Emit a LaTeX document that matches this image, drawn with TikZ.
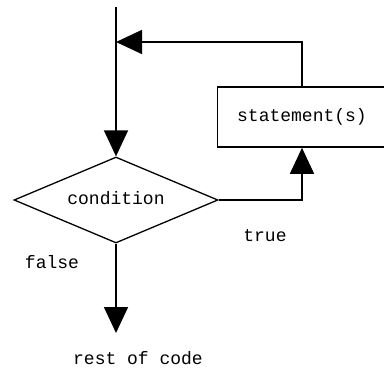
\documentclass[tikz,border=0pt]{standalone}
\usepackage{fontspec}
\newfontfamily\cf{Liberation Mono}
\usetikzlibrary{shapes.geometric,arrows.meta}
\begin{document}
\begin{tikzpicture}[x=1pt,y=-1pt,
  conn/.style={line width=1.6pt,-{Triangle[length=26pt,width=24pt]}},
  lbl/.style={font=\cf\fontsize{18}{20}\selectfont,inner sep=0pt},
  decision/.style={draw,line width=1.3pt,diamond,aspect=2.4,minimum width=204pt,minimum height=86pt,inner sep=0pt,font=\cf\fontsize{18}{20}\selectfont},
  stmtbox/.style={draw,line width=1.6pt,rectangle,minimum width=169pt,minimum height=60pt,inner sep=0pt,font=\cf\fontsize{18}{20}\selectfont}]
\useasboundingbox (0,0) rectangle (384,370);
\node[decision] (cond) at (116,200) {\raisebox{4pt}{condition}};
\node[stmtbox] (stmt) at (302,117) {statement(s)};
\coordinate (start) at (116,7);
\coordinate (join) at (116,42);
\coordinate (finish) at (116,333);
\node[lbl] (truelbl) at (265,236) {true};
\node[lbl] (falselbl) at (52,262) {false};
\node[lbl] (restlbl) at (138,358) {rest of code};
\draw[conn] (start) -- (cond.north);
\draw[conn] (stmt.north) |- (join);
\draw[conn] (cond.east) -| (stmt.south);
\draw[conn] (cond.south) -- (finish);
\end{tikzpicture}
\end{document}
